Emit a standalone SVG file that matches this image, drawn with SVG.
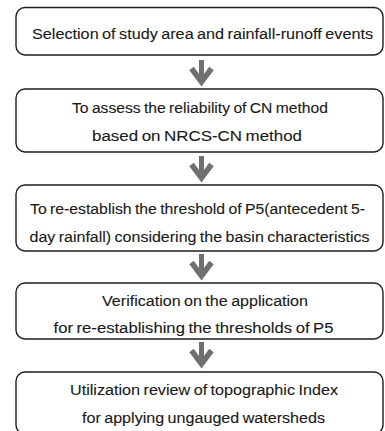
<svg xmlns="http://www.w3.org/2000/svg" width="385" height="431" viewBox="0 0 385 431">
<style>
.box{fill:#fff;stroke:#1e1e1e;stroke-width:1.4}
.t{font-family:"Liberation Sans",Arial,sans-serif;font-size:15.5px;word-spacing:-1px;fill:#1a1a1a;stroke:#1a1a1a;stroke-width:0.12}
.stem{stroke:#707070;stroke-width:5;fill:none}
.head{stroke:#707070;stroke-width:5.5;fill:none;stroke-linejoin:miter;stroke-miterlimit:10}
</style>
<rect width="385" height="431" fill="#fff"/>
<g id="node1">
<rect class="box" x="16" y="7.5" width="367" height="47.5" rx="9"/>
<text class="t" x="32" y="38.5" textLength="341" lengthAdjust="spacingAndGlyphs">Selection of study area and rainfall-runoff events</text>
</g>
<g id="node2">
<rect class="box" x="16" y="89" width="367" height="63" rx="9"/>
<text class="t" x="72" y="112.5" textLength="256" lengthAdjust="spacingAndGlyphs">To assess the reliability of CN method</text>
<text class="t" x="92" y="140.5" textLength="210" lengthAdjust="spacingAndGlyphs">based on NRCS-CN method</text>
</g>
<g id="node3">
<rect class="box" x="16" y="185" width="367" height="66" rx="9"/>
<text class="t" x="30" y="213.5" textLength="335" lengthAdjust="spacingAndGlyphs">To re-establish the threshold of P5(antecedent 5-</text>
<text class="t" x="29.5" y="241.5" textLength="340" lengthAdjust="spacingAndGlyphs">day rainfall) considering the basin characteristics</text>
</g>
<g id="node4">
<rect class="box" x="16" y="283" width="367" height="56" rx="9"/>
<text class="t" x="102" y="305.5" textLength="206" lengthAdjust="spacingAndGlyphs">Verification on the application</text>
<text class="t" x="53.5" y="332.5" textLength="280" lengthAdjust="spacingAndGlyphs">for re-establishing the thresholds of P5</text>
</g>
<g id="node5">
<rect class="box" x="16" y="372" width="367" height="62" rx="9"/>
<text class="t" x="70" y="394.5" textLength="268" lengthAdjust="spacingAndGlyphs">Utilization review of topographic Index</text>
<text class="t" x="82" y="422.5" textLength="243" lengthAdjust="spacingAndGlyphs">for applying ungauged watersheds</text>
</g>
<g id="connectors">
<g transform="translate(201.5,60)">
<line class="stem" x1="0" y1="0" x2="0" y2="22"/>
<polyline class="head" points="-10,8.5 0,22 10,8.5"/>
</g>
<g transform="translate(201.5,156)">
<line class="stem" x1="0" y1="0" x2="0" y2="22"/>
<polyline class="head" points="-10,8.5 0,22 10,8.5"/>
</g>
<g transform="translate(201.5,254)">
<line class="stem" x1="0" y1="0" x2="0" y2="22"/>
<polyline class="head" points="-10,8.5 0,22 10,8.5"/>
</g>
<g transform="translate(201.5,342)">
<line class="stem" x1="0" y1="0" x2="0" y2="22"/>
<polyline class="head" points="-10,8.5 0,22 10,8.5"/>
</g>
</g>
</svg>
